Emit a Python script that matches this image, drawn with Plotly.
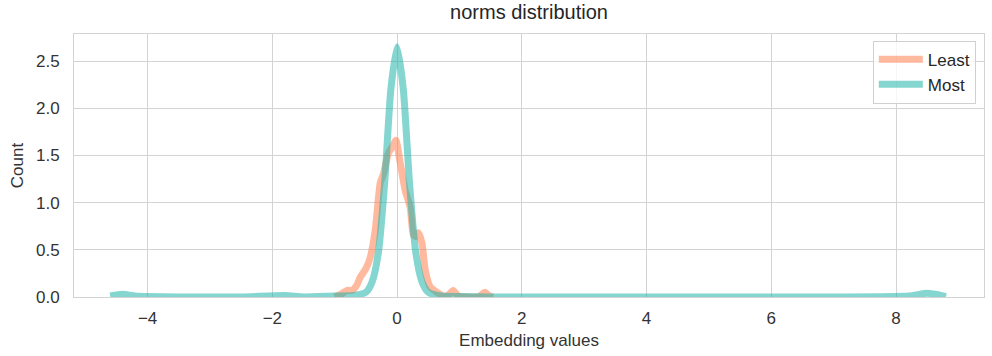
import plotly.graph_objects as go

# Data
least_x = [-1.0, -0.9, -0.8, -0.72, -0.65, -0.59, -0.5, -0.43, -0.35, -0.27, -0.22, -0.14, -0.07, -0.02,
           0.05, 0.13, 0.21, 0.26, 0.3, 0.34, 0.4, 0.45, 0.53, 0.64, 0.74, 0.82, 0.9, 0.98, 1.1, 1.3, 1.41, 1.48, 1.54]
least_y = [0.0, 0.03, 0.07, 0.07, 0.12, 0.21, 0.3, 0.42, 0.71, 1.21, 1.3, 1.52, 1.6, 1.66,
           1.42, 1.13, 0.95, 0.66, 0.64, 0.68, 0.57, 0.29, 0.11, 0.05, 0.01, 0.02, 0.07, 0.01, 0.0, 0.0, 0.05, 0.01, 0.0]

most_x = [-4.6, -4.4, -4.2, -3.5, -2.5, -1.8, -1.5, -1.0, -0.7, -0.5, -0.4, -0.3, -0.2, -0.1, 0.0,
          0.1, 0.2, 0.3, 0.4, 0.5, 0.7, 1.0, 1.5, 3.0, 5.0, 7.0, 8.2, 8.5, 8.7, 8.8]
most_y = [0.01, 0.03, 0.01, 0.0, 0.0, 0.015, 0.0, 0.01, 0.015, 0.05, 0.16, 0.47, 1.2, 2.2, 2.65,
          2.2, 1.2, 0.47, 0.16, 0.05, 0.01, 0.005, 0.0, 0.0, 0.0, 0.0, 0.01, 0.04, 0.02, 0.005]

x_ticks = [-4, -2, 0, 2, 4, 6, 8]
y_ticks = [0.0, 0.5, 1.0, 1.5, 2.0, 2.5]

FONT = "Liberation Sans, Arial, sans-serif"

fig = go.Figure()
fig.add_trace(go.Scatter(x=least_x, y=least_y, mode="lines", name="Least",
                         line=dict(color="rgba(255,127,80,0.55)", width=7, shape="spline", smoothing=0.6)))
fig.add_trace(go.Scatter(x=most_x, y=most_y, mode="lines", name="Most",
                         line=dict(color="rgba(32,178,170,0.55)", width=7, shape="spline", smoothing=0.6)))

fig.update_layout(
    width=992, height=356,
    margin=dict(l=74, r=8, t=34, b=59),
    paper_bgcolor="white", plot_bgcolor="white",
    font=dict(family=FONT, size=17, color="#333333"),
    title=dict(text="norms distribution", x=0.5, xref="paper", xanchor="center",
               y=1, yref="container", yanchor="top", pad=dict(t=5),
               font=dict(size=20, color="#262626")),
    legend=dict(x=0.991, y=0.975, xanchor="right", yanchor="top",
                bgcolor="rgba(255,255,255,0.8)", bordercolor="#d0d0d0", borderwidth=1,
                font=dict(size=17, color="#262626"), itemwidth=44, tracegroupgap=0),
    xaxis=dict(range=[-5.18, 9.41], tickvals=x_ticks,
               ticktext=["\u2212" + str(-v) if v < 0 else str(v) for v in x_ticks],
               showgrid=True, gridcolor="#d3d3d3", gridwidth=1, zeroline=False,
               showline=True, linecolor="#d3d3d3", mirror=True, ticks="", ticklabelstandoff=6,
               title=dict(text="Embedding values", font=dict(size=17, color="#333333"), standoff=6),
               tickfont=dict(size=17, color="#333333")),
    yaxis=dict(range=[0, 2.786], tickvals=y_ticks, ticktext=[f"{v:.1f}" for v in y_ticks],
               showgrid=True, gridcolor="#d3d3d3", gridwidth=1, zeroline=False,
               showline=True, linecolor="#d3d3d3", mirror=True, ticks="", ticklabelstandoff=10,
               title=dict(text="Count", font=dict(size=17, color="#333333"), standoff=8),
               tickfont=dict(size=17, color="#333333")),
)

fig.write_html("out.html")
